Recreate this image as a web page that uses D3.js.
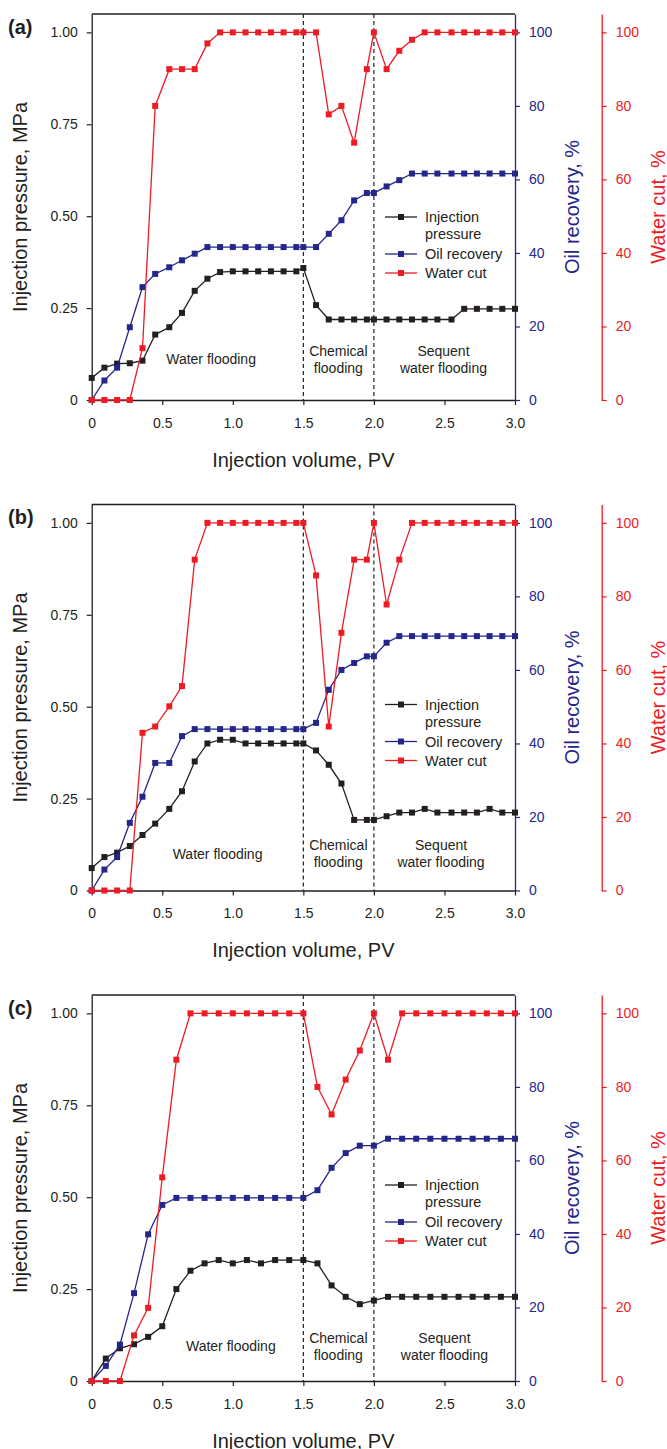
<!DOCTYPE html>
<html><head><meta charset="utf-8">
<script src="https://cdn.jsdelivr.net/npm/d3@7"></script>
<style>body{margin:0;background:#fff}svg{display:block}text{font-family:"Liberation Sans",Arial,sans-serif}</style>
</head><body><svg id="chart" width="667" height="1449"></svg>
<script>
// ---------- data ----------
const xAB = [0,0.09,0.18,0.27,0.36,0.45,0.55,0.64,0.73,0.82,0.91,1.0,1.09,1.18,1.27,1.36,1.45,1.5,1.59,1.68,1.77,1.86,1.95,2.0,2.09,2.18,2.27,2.36,2.45,2.55,2.64,2.73,2.82,2.91,3.0];
const pressureA = [0.06,0.088,0.099,0.10,0.107,0.178,0.198,0.237,0.297,0.33,0.348,0.35,0.35,0.35,0.35,0.35,0.35,0.359,0.258,0.219,0.219,0.219,0.219,0.219,0.219,0.219,0.219,0.219,0.219,0.219,0.248,0.248,0.248,0.248,0.248];
const recoveryA = [0,5.3,8.8,19.8,30.7,34.3,36.1,38.0,39.8,41.6,41.6,41.6,41.6,41.6,41.6,41.6,41.6,41.6,41.6,45.2,48.9,54.3,56.3,56.3,58.1,59.8,61.6,61.6,61.6,61.6,61.6,61.6,61.6,61.6,61.6];
const waterCutA = [0,0,0,0,14.1,80,90,90,90,97,100,100,100,100,100,100,100,100,100,77.7,80,70,90,100,90,95,98,100,100,100,100,100,100,100,100];
const pressureB = [0.061,0.091,0.103,0.121,0.151,0.182,0.222,0.270,0.351,0.40,0.41,0.41,0.40,0.40,0.40,0.40,0.40,0.40,0.381,0.342,0.291,0.192,0.192,0.192,0.202,0.212,0.212,0.222,0.212,0.212,0.212,0.212,0.222,0.212,0.212];
const recoveryB = [0,5.7,9.1,18.4,25.5,34.7,34.7,42.0,43.9,43.9,43.9,43.9,43.9,43.9,43.9,43.9,43.9,43.9,45.6,54.6,60.0,61.9,63.7,63.7,67.4,69.2,69.2,69.2,69.2,69.2,69.2,69.2,69.2,69.2,69.2];
const waterCutB = [0,0,0,0,42.9,44.6,50.1,55.6,90.0,100,100,100,100,100,100,100,100,100,85.7,44.6,70.1,90,90,100,77.8,90,100,100,100,100,100,100,100,100,100];
const xC = [0,0.1,0.2,0.3,0.4,0.5,0.6,0.7,0.8,0.9,1.0,1.1,1.2,1.3,1.4,1.5,1.6,1.7,1.8,1.9,2.0,2.1,2.2,2.3,2.4,2.5,2.6,2.7,2.8,2.9,3.0];
const pressureC = [0,0.061,0.089,0.10,0.12,0.149,0.25,0.30,0.32,0.329,0.32,0.329,0.32,0.329,0.329,0.329,0.32,0.26,0.229,0.209,0.219,0.229,0.229,0.229,0.229,0.229,0.229,0.229,0.229,0.229,0.229];
const recoveryC = [0,4.1,9.9,23.9,39.9,47.9,49.8,49.8,49.8,49.8,49.8,49.8,49.8,49.8,49.8,49.8,51.9,58.0,62.0,64.0,64.0,65.9,65.9,65.9,65.9,65.9,65.9,65.9,65.9,65.9,65.9];
const waterCutC = [0,0,0,12.4,19.9,55.4,87.4,100,100,100,100,100,100,100,100,100,80.0,72.5,82.0,89.9,100,87.4,100,100,100,100,100,100,100,100,100];

const xTicks = [0,0.5,1.0,1.5,2.0,2.5,3.0];
const xTickLabels = ["0","0.5","1.0","1.5","2.0","2.5","3.0"];
const pressureTicks = [0,0.25,0.5,0.75,1.0];
const pressureTickLabels = ["0","0.25","0.50","0.75","1.00"];
const percentTicks = [0,20,40,60,80,100];
const phaseBoundaries = [1.5,2.0];
const panelLabels = ["(a)","(b)","(c)"];
const seriesNames = ["Injection pressure","Oil recovery","Water cut"];

// ---------- layout / style ----------
const C = {black:"#231f20", blue:"#25268c", red:"#ec1c24"};
const L = 91.7, R = 515, RED_AX = 601.7, H = 386;
const panels = [
  {top:14,    x:xAB, s:[pressureA,recoveryA,waterCutA], legendTop:203, water:[0.846,0.11], chem:[1.748,0.134,0.087], seq:2.493},
  {top:504.5, x:xAB, s:[pressureB,recoveryB,waterCutB], legendTop:200, water:[0.892,0.10], chem:[1.748,0.124,0.077], seq:2.476},
  {top:995,   x:xC,  s:[pressureC,recoveryC,waterCutC], legendTop:190, water:[0.986,0.095], chem:[1.748,0.118,0.070], seq:2.5}
];

const svg = d3.select("#chart");

panels.forEach((cfg, pi) => {
  const g = svg.append("g");
  const bottom = cfg.top + H;
  const x = d3.scaleLinear().domain([0,3]).range([L,R]);
  const y = d3.scaleLinear().domain([0,1.05]).range([bottom, cfg.top]);
  const yp = d3.scaleLinear().domain([0,105]).range([bottom, cfg.top]);
  const scales = [y, yp, yp];
  const colors = [C.black, C.blue, C.red];

  // top border
  g.append("line").attr("x1",L).attr("x2",R).attr("y1",cfg.top).attr("y2",cfg.top)
    .attr("stroke",C.black).attr("stroke-width",1.3);

  // dashed phase boundaries
  g.selectAll(".phase").data(phaseBoundaries).enter().append("line")
    .attr("x1",d=>x(d)).attr("x2",d=>x(d)).attr("y1",cfg.top).attr("y2",bottom)
    .attr("stroke",C.black).attr("stroke-width",1.2).attr("stroke-dasharray","4,3");

  // axes
  const styleAxis = (sel, col) => {
    sel.selectAll("path").attr("stroke",col).attr("stroke-width",1.3);
    sel.selectAll("line").attr("stroke",col).attr("stroke-width",1.2);
    sel.selectAll("text").attr("fill",col).attr("font-size",14).attr("font-family","Liberation Sans, Arial, sans-serif");
  };
  const ax = g.append("g").attr("transform",`translate(0,${bottom})`)
    .call(d3.axisBottom(x).tickValues(xTicks).tickFormat((d,i)=>xTickLabels[i]).tickSize(5).tickSizeOuter(0).tickPadding(13));
  styleAxis(ax, C.black);
  const ay = g.append("g").attr("transform",`translate(${L},0)`)
    .call(d3.axisLeft(y).tickValues(pressureTicks).tickFormat((d,i)=>pressureTickLabels[i]).tickSize(5).tickSizeOuter(0).tickPadding(9));
  styleAxis(ay, C.black);
  const ab = g.append("g").attr("transform",`translate(${R},0)`)
    .call(d3.axisRight(yp).tickValues(percentTicks).tickFormat(d3.format("d")).tickSize(5).tickSizeOuter(0).tickPadding(9));
  styleAxis(ab, C.blue);
  const ar = g.append("g").attr("transform",`translate(${RED_AX},0)`)
    .call(d3.axisRight(yp).tickValues(percentTicks).tickFormat(d3.format("d")).tickSize(5).tickSizeOuter(0).tickPadding(9));
  styleAxis(ar, C.red);

  // series
  cfg.s.forEach((vals, si) => {
    const pts = vals.map((v,i)=>[cfg.x[i], v]);
    g.append("path").datum(pts)
      .attr("d", d3.line().x(d=>x(d[0])).y(d=>scales[si](d[1])))
      .attr("fill","none").attr("stroke",colors[si]).attr("stroke-width",1.3);
    g.selectAll(null).data(pts).enter().append("rect")
      .attr("x",d=>x(d[0])-3).attr("y",d=>scales[si](d[1])-3)
      .attr("width",6).attr("height",6).attr("fill",colors[si]);
  });

  // legend
  const lg = g.append("g");
  const legendY0 = cfg.top + cfg.legendTop;
  const rows = [0, 37, 56];
  seriesNames.forEach((name, si) => {
    const ly = legendY0 + rows[si];
    lg.append("line").attr("x1",385).attr("x2",417).attr("y1",ly).attr("y2",ly)
      .attr("stroke",colors[si]).attr("stroke-width",1.3);
    lg.append("rect").attr("x",401-3).attr("y",ly-3).attr("width",6).attr("height",6).attr("fill",colors[si]);
  });
  const legendText = [["Injection",0],["pressure",17],["Oil recovery",37],["Water cut",56]];
  legendText.forEach(([t,off]) => {
    lg.append("text").attr("x",425).attr("y",legendY0+off).attr("dy","0.35em")
      .attr("font-size",14.5).attr("fill",C.black).text(t);
  });

  // phase labels
  const lab = (tx, xv, yv) => g.append("text").attr("x",x(xv)).attr("y",y(yv)).attr("dy","0.35em")
    .attr("text-anchor","middle").attr("font-size",14).attr("fill",C.black).text(tx);
  lab("Water flooding", cfg.water[0], cfg.water[1]);
  lab("Chemical", cfg.chem[0], cfg.chem[1]);
  lab("flooding", cfg.chem[0], cfg.chem[2]);
  lab("Sequent", cfg.seq, cfg.chem[1]);
  lab("water flooding", cfg.seq, cfg.chem[2]);

  // axis titles
  const midY = cfg.top + 193;
  g.append("text").attr("transform",`translate(20,${midY}) rotate(-90)`).attr("dy","0.35em")
    .attr("text-anchor","middle").attr("font-size",20).attr("fill",C.black).text("Injection pressure, MPa");
  g.append("text").attr("transform",`translate(572,${midY}) rotate(-90)`).attr("dy","0.35em")
    .attr("text-anchor","middle").attr("font-size",20).attr("fill",C.blue).text("Oil recovery, %");
  g.append("text").attr("transform",`translate(657.5,${midY}) rotate(-90)`).attr("dy","0.35em")
    .attr("text-anchor","middle").attr("font-size",20).attr("fill",C.red).text("Water cut, %");
  g.append("text").attr("x",(L+R)/2).attr("y",bottom+59.5).attr("dy","0.35em")
    .attr("text-anchor","middle").attr("font-size",20).attr("fill",C.black).text("Injection volume, PV");

  // panel label
  g.append("text").attr("x",8).attr("y",cfg.top+12.5).attr("dy","0.35em")
    .attr("font-size",20).attr("font-weight","bold").attr("fill",C.black).text(panelLabels[pi]);
});
</script>
</body></html>
